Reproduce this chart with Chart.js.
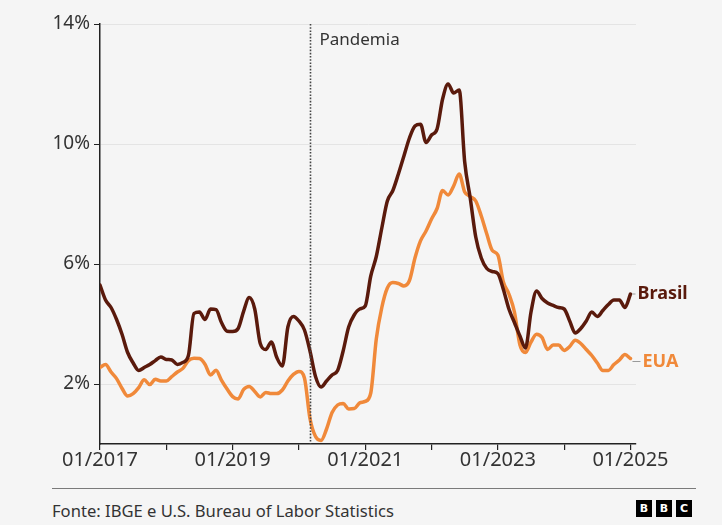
<!DOCTYPE html>
<html>
<head>
<meta charset="utf-8">
<script src="https://cdn.jsdelivr.net/npm/chart.js@4.4.1/dist/chart.umd.min.js"></script>
<style>
  html, body { margin:0; padding:0; background:#f5f5f5; }
  #wrap { position:relative; width:722px; height:525px; background:#f5f5f5; overflow:hidden; }
  #chartBox { position:absolute; left:0; top:0; width:722px; height:480px; }
  #rule { position:absolute; left:52px; top:488px; width:644px; height:0; border-top:1.5px solid #7a7a7a; }
  #source { position:absolute; left:52px; top:500px; font-family:"Noto Sans",sans-serif; font-size:16.6px; line-height:22px; color:#333; }
  .bbc { position:absolute; top:500px; width:16px; height:17px; background:#000; color:#fff; font-family:"DejaVu Sans",sans-serif; font-weight:bold; font-size:11px; line-height:17px; text-align:center; }
</style>
</head>
<body>
<div id="wrap">
  <div id="chartBox"><canvas id="c"></canvas></div>
  <div id="rule"></div>
  <div id="source">Fonte: IBGE e U.S. Bureau of Labor Statistics</div>
  <div class="bbc" style="left:636px">B</div>
  <div class="bbc" style="left:656px">B</div>
  <div class="bbc" style="left:676px">C</div>
</div>
<script>
// Monthly values, 01/2017 .. 01/2025 (inflação acumulada em 12 meses, %)
const brasil = [
  5.3, 4.8, 4.55, 4.15, 3.65, 3.05, 2.7, 2.45, 2.55, 2.65, 2.78, 2.9,
  2.82, 2.8, 2.65, 2.72, 2.95, 4.35, 4.4, 4.15, 4.5, 4.48, 4.04, 3.76,
  3.75, 3.85, 4.43, 4.88, 4.5, 3.35, 3.15, 3.4, 2.88, 2.6, 3.9, 4.25,
  4.1, 3.8, 3.1, 2.25, 1.9, 2.1, 2.3, 2.45, 3.1, 3.9, 4.3, 4.5,
  4.6, 5.6, 6.25, 7.2, 8.1, 8.45, 9.0, 9.6, 10.2, 10.6, 10.66, 10.05,
  10.3, 10.5, 11.5, 12.0, 11.7, 11.8, 9.4, 8.2, 6.9, 6.2, 5.85, 5.75,
  5.68, 5.15, 4.5, 4.05, 3.6, 3.2, 4.4, 5.1, 4.85, 4.7, 4.62, 4.55,
  4.5, 4.1, 3.7, 3.85, 4.1, 4.4, 4.25, 4.45, 4.65, 4.8, 4.8, 4.55,
  5.0
];
const eua = [
  2.55, 2.65, 2.4, 2.18, 1.85, 1.6, 1.68, 1.88, 2.14, 1.98, 2.16, 2.1,
  2.1, 2.25, 2.4, 2.52, 2.78, 2.86, 2.85, 2.66, 2.3, 2.46, 2.12, 1.83,
  1.58, 1.5, 1.82, 1.92, 1.75, 1.57, 1.72, 1.68, 1.68, 1.8, 2.1, 2.32,
  2.42, 2.2, 0.85, 0.25, 0.12, 0.5, 1.05, 1.3, 1.35, 1.17, 1.18, 1.37,
  1.42, 1.7, 3.5, 4.55, 5.2, 5.38, 5.35, 5.27, 5.45, 6.2, 6.77, 7.1,
  7.5, 7.85, 8.45, 8.3, 8.6, 9.0, 8.4, 8.25, 8.1, 7.6, 7.0, 6.45,
  6.3, 5.4, 5.0, 4.4, 3.3, 3.05, 3.4, 3.66, 3.55, 3.15, 3.3, 3.3,
  3.12, 3.25, 3.46, 3.35, 3.15, 2.95, 2.7, 2.45, 2.45, 2.65, 2.8, 2.98,
  2.85
];
const yearTicks = [0, 12, 24, 36, 48, 60, 72, 84, 96];
const yearLabels = ["01/2017", "", "01/2019", "", "01/2021", "", "01/2023", "", "01/2025"];
const yTicks = [2, 6, 10, 14];
const yTickLabels = ["2%", "6%", "10%", "14%"];
const pandemiaMonth = 38; // 03/2020
const seriesNames = ["Brasil", "EUA"];
const colors = ["#5a1a0c", "#f0893a"];

const toXY = arr => arr.map((v, i) => ({ x: i, y: v }));

const overlay = {
  id: 'overlay',
  afterDatasetsDraw(chart) {
    const ctx = chart.ctx, xs = chart.scales.x, ys = chart.scales.y, ca = chart.chartArea;
    const px = Math.round(xs.getPixelForValue(pandemiaMonth)) + 0.5;
    ctx.save();
    ctx.strokeStyle = '#444';
    ctx.lineWidth = 1.6;
    ctx.setLineDash([1.6, 1.6]);
    ctx.beginPath();
    ctx.moveTo(px, ca.top);
    ctx.lineTo(px, ca.bottom);
    ctx.stroke();
    ctx.setLineDash([]);
    ctx.fillStyle = '#333';
    ctx.font = '17px "Noto Sans", sans-serif';
    ctx.textBaseline = 'middle';
    ctx.textAlign = 'left';
    ctx.fillText('Pandemia', px + 9, 40);
    const offs = [{tx: 7, dy: 0}, {tx: 12, dy: 3}];
    chart.data.datasets.forEach((ds, i) => {
      const last = ds.data[ds.data.length - 1];
      const lx = xs.getPixelForValue(last.x), ly = ys.getPixelForValue(last.y) + offs[i].dy;
      ctx.strokeStyle = '#9a9a9a';
      ctx.lineWidth = 1;
      ctx.beginPath();
      ctx.moveTo(lx + 2, ly);
      ctx.lineTo(lx + offs[i].tx - 2, ly);
      ctx.stroke();
      ctx.fillStyle = colors[i];
      ctx.font = 'bold 18px "Noto Sans", sans-serif';
      ctx.fillText(seriesNames[i], lx + offs[i].tx, ly);
    });
    ctx.restore();
  }
};

new Chart(document.getElementById('c'), {
  type: 'line',
  data: {
    datasets: [
      { label: seriesNames[0], data: toXY(brasil), borderColor: colors[0], borderWidth: 3.5, pointRadius: 0, cubicInterpolationMode: 'monotone', borderJoinStyle: 'round', borderCapStyle: 'round' },
      { label: seriesNames[1], data: toXY(eua), borderColor: colors[1], borderWidth: 3.5, pointRadius: 0, cubicInterpolationMode: 'monotone', borderJoinStyle: 'round', borderCapStyle: 'round' }
    ]
  },
  options: {
    responsive: true,
    maintainAspectRatio: false,
    animation: false,
    layout: { padding: { left: 0, right: 86, top: 24, bottom: 0 } },
    plugins: { legend: { display: false }, tooltip: { enabled: false } },
    scales: {
      x: {
        type: 'linear', min: 0, max: 97,
        afterBuildTicks: s => { s.ticks = yearTicks.map(v => ({ value: v })); },
        afterFit: s => { s.height = 36; },
        ticks: {
          autoSkip: false, maxRotation: 0, padding: -2,
          color: '#333', font: { family: '"Noto Sans", sans-serif', size: 20 },
          callback: (v, i) => yearLabels[i]
        },
        grid: { drawOnChartArea: false, drawTicks: true, tickLength: 6, tickColor: '#222', lineWidth: 1.2 },
        border: { display: true, color: '#222', width: 1.5 }
      },
      y: {
        min: 0, max: 14,
        afterBuildTicks: s => { s.ticks = yTicks.map(v => ({ value: v })); },
        afterFit: s => { s.width = 100; },
        ticks: {
          padding: 4, color: '#333', font: { family: '"Noto Sans", sans-serif', size: 19 },
          callback: (v, i) => yTickLabels[i]
        },
        grid: { color: '#e4e4e4', lineWidth: 1, tickLength: 6, tickColor: '#222' },
        border: { display: true, color: '#222', width: 1.5 }
      }
    }
  },
  plugins: [overlay]
});
</script>
</body>
</html>
